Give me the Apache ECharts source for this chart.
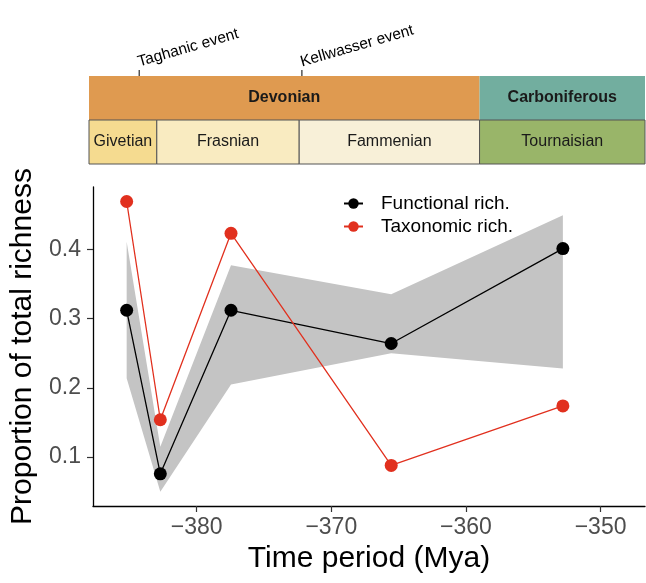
<!DOCTYPE html>
<html>
<head>
<meta charset="utf-8">
<script src="https://cdn.jsdelivr.net/npm/echarts@6/dist/echarts.min.js"></script>
<style>
html,body{margin:0;padding:0;background:#fff;}
#chart{width:646px;height:583px;}
</style>
</head>
<body>
<div id="chart"></div>
<script>
// ---- data ----
const timeMid = [-385.2, -382.7, -377.45, -365.55, -352.8];
const functionalRich = [0.312, 0.076, 0.312, 0.264, 0.401];
const taxonomicRich = [0.469, 0.154, 0.423, 0.088, 0.174];
const ribbonLow = [0.214, 0.050, 0.205, 0.250, 0.228];
const ribbonHigh = [0.411, 0.115, 0.377, 0.335, 0.449];

const periodNames = ['Devonian', 'Carboniferous'];
const periodStart = [-387.7, -358.9];
const periodEnd = [-358.9, -346.7];
const periodColors = ['#DF9A50', '#72AE9F'];

const stageNames = ['Givetian', 'Frasnian', 'Fammenian', 'Tournaisian'];
const stageStart = [-387.7, -382.7, -372.2, -358.9];
const stageEnd = [-382.7, -372.2, -358.9, -346.7];
const stageColors = ['#F5DB90', '#F9EBC1', '#F8F0D8', '#99B569'];

const eventNames = ['Taghanic event', 'Kellwasser event'];
const eventTimes = [-384.0, -372.0];

const xTicks = [-380, -370, -360, -350];
const yTicks = [0.1, 0.2, 0.3, 0.4];
const xRange = [-387.7, -346.7];
const yRange = [0.0295, 0.4899];

const FONT = "'Liberation Sans', Arial, Helvetica, sans-serif";
const RED = '#E1301E';

const chart = echarts.init(document.getElementById('chart'));

function minusFmt(v) { return String(v).replace('-', '\u2212'); }

const periodData = periodNames.map((n, i) => ({ name: n, value: [periodStart[i], periodEnd[i], 1, i] }));
const stageData = stageNames.map((n, i) => ({ name: n, value: [stageStart[i], stageEnd[i], 0, i] }));

function boxRender(colors, bold, stroke) {
  return function (params, api) {
    const p0 = api.coord([api.value(0), api.value(2) + 1]);
    const p1 = api.coord([api.value(1), api.value(2)]);
    const idx = api.value(3);
    const name = (bold ? periodNames : stageNames)[idx];
    return {
      type: 'group',
      children: [
        {
          type: 'rect',
          shape: { x: p0[0], y: p0[1], width: p1[0] - p0[0], height: p1[1] - p0[1] },
          style: { fill: colors[idx], stroke: stroke, lineWidth: stroke ? 1 : 0 }
        },
        {
          type: 'text',
          x: (p0[0] + p1[0]) / 2,
          y: (p0[1] + p1[1]) / 2,
          style: {
            text: name, fill: '#1a1a1a', fontSize: 16, fontFamily: FONT,
            fontWeight: bold ? 'bold' : 'normal', align: 'center', verticalAlign: 'middle'
          }
        }
      ]
    };
  };
}

const option = {
  animation: false,
  backgroundColor: '#ffffff',
  textStyle: { fontFamily: FONT },
  grid: [
    { left: 89, right: 1, top: 187, bottom: 77 },
    { left: 89, right: 1, top: 76, height: 88 }
  ],
  xAxis: [
    {
      type: 'value', gridIndex: 0, min: xRange[0], max: xRange[1],
      name: 'Time period (Mya)', nameLocation: 'middle', nameGap: 32,
      nameTextStyle: { fontSize: 30, color: '#000', fontFamily: FONT },
      axisLine: { show: true, onZero: false, lineStyle: { color: '#000', width: 1.3 } },
      axisTick: { show: true, length: 6, customValues: xTicks, lineStyle: { color: '#333', width: 1.2 } },
      axisLabel: { customValues: xTicks, formatter: minusFmt, fontSize: 23, color: '#4D4D4D', margin: 10, fontFamily: FONT },
      splitLine: { show: false }
    },
    {
      type: 'value', gridIndex: 1, min: xRange[0], max: xRange[1], show: false
    }
  ],
  yAxis: [
    {
      type: 'value', gridIndex: 0, min: yRange[0], max: yRange[1],
      name: 'Proportion of total richness', nameLocation: 'middle', nameGap: 55,
      nameTextStyle: { fontSize: 30, color: '#000', fontFamily: FONT },
      axisLine: { show: true, onZero: false, lineStyle: { color: '#000', width: 1.3 } },
      axisTick: { show: true, length: 6, customValues: yTicks, lineStyle: { color: '#333', width: 1.2 } },
      axisLabel: { customValues: yTicks, formatter: v => v.toFixed(1), fontSize: 23, color: '#4D4D4D', margin: 12, fontFamily: FONT },
      splitLine: { show: false }
    },
    {
      type: 'value', gridIndex: 1, min: 0, max: 2, show: false
    }
  ],
  legend: {
    orient: 'vertical', left: 338, top: 189,
    itemWidth: 19, itemHeight: 13, itemGap: 4,
    data: ['Functional rich.', 'Taxonomic rich.'],
    textStyle: { fontSize: 19, color: '#000', fontFamily: FONT, padding: [0, 0, 0, 13] }
  },
  series: [
    {
      type: 'custom', name: 'ribbon', xAxisIndex: 0, yAxisIndex: 0,
      data: timeMid.map((t, i) => [t, ribbonLow[i], ribbonHigh[i]]),
      encode: { x: 0, y: [1, 2] },
      silent: true,
      renderItem: function (params, api) {
        if (params.dataIndex !== 0) return null;
        const pts = [];
        for (let i = 0; i < timeMid.length; i++) pts.push(api.coord([timeMid[i], ribbonHigh[i]]));
        for (let i = timeMid.length - 1; i >= 0; i--) pts.push(api.coord([timeMid[i], ribbonLow[i]]));
        return { type: 'polygon', shape: { points: pts }, style: { fill: '#C4C4C4' } };
      },
      z: 1
    },
    {
      type: 'line', name: 'Functional rich.', xAxisIndex: 0, yAxisIndex: 0,
      data: timeMid.map((t, i) => [t, functionalRich[i]]),
      symbol: 'circle', symbolSize: 13,
      itemStyle: { color: '#000' },
      lineStyle: { color: '#000', width: 1.3 },
      z: 3
    },
    {
      type: 'line', name: 'Taxonomic rich.', xAxisIndex: 0, yAxisIndex: 0,
      data: timeMid.map((t, i) => [t, taxonomicRich[i]]),
      symbol: 'circle', symbolSize: 13,
      itemStyle: { color: RED },
      lineStyle: { color: RED, width: 1.3 },
      z: 4
    },
    {
      type: 'custom', name: 'periods', xAxisIndex: 1, yAxisIndex: 1,
      data: periodData, encode: { x: [0, 1], y: 2 },
      renderItem: boxRender(periodColors, true, null), silent: true
    },
    {
      type: 'custom', name: 'stages', xAxisIndex: 1, yAxisIndex: 1,
      data: stageData, encode: { x: [0, 1], y: 2 },
      renderItem: boxRender(stageColors, false, '#555555'), silent: true
    },
    {
      type: 'custom', name: 'events', xAxisIndex: 1, yAxisIndex: 1,
      data: eventTimes.map((t, i) => ({ name: eventNames[i], value: [t, 2, i] })),
      encode: { x: 0, y: 1 },
      silent: true,
      renderItem: function (params, api) {
        const p = api.coord([api.value(0), api.value(1)]);
        const i = api.value(2);
        return {
          type: 'group',
          children: [
            { type: 'line', shape: { x1: p[0], y1: p[1] - 6, x2: p[0], y2: p[1] }, style: { stroke: '#000', lineWidth: 1 } },
            {
              type: 'text', x: p[0] + 1, y: p[1] - 6, rotation: 16 * Math.PI / 180,
              style: { text: eventNames[i], fill: '#000', fontSize: 15.5, fontFamily: FONT, align: 'left', verticalAlign: 'bottom' }
            }
          ]
        };
      }
    }
  ]
};
chart.setOption(option);
</script>
</body>
</html>
